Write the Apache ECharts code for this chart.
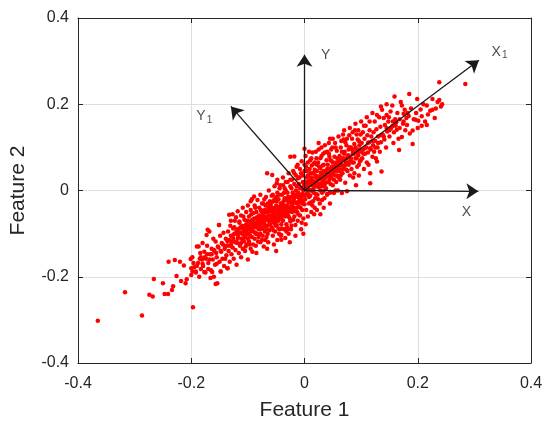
<!DOCTYPE html>
<html>
<head>
<meta charset="utf-8">
<script src="https://cdn.jsdelivr.net/npm/echarts@6/dist/echarts.min.js"></script>
<style>
  html, body { margin: 0; padding: 0; background: #fff; }
  #chart { width: 550px; height: 431px; }
</style>
</head>
<body>
<div id="chart"></div>
<script>
// axis ticks
const tickValues = [-0.4, -0.2, 0, 0.2, 0.4];

// samples, lower-left tail
const tailLow = [
  [-0.365,-0.302],[-0.317,-0.236],[-0.287,-0.290],[-0.274,-0.242],[-0.268,-0.246],[-0.266,-0.205],
  [-0.250,-0.215],[-0.247,-0.240],[-0.241,-0.240],[-0.234,-0.231],[-0.232,-0.222],[-0.226,-0.198],
  [-0.240,-0.165],[-0.229,-0.161],[-0.220,-0.165],[-0.213,-0.174],[-0.218,-0.210],[-0.210,-0.215],
  [-0.208,-0.206],[-0.197,-0.271],[-0.200,-0.196],[-0.201,-0.159],[-0.198,-0.188],[-0.192,-0.188],
  [-0.187,-0.130],[-0.183,-0.155],[-0.177,-0.189],[-0.171,-0.091],[-0.166,-0.203],[-0.157,-0.217],
  [-0.163,-0.189],[-0.148,-0.188],[-0.136,-0.180],[-0.151,-0.080],[-0.173,-0.103],[-0.133,-0.056]
];

// left half of the band
const bandLeft = [
  [-0.198,-0.155],[-0.195,-0.178],[-0.192,-0.19],[-0.19,-0.13],[-0.188,-0.168],[-0.186,-0.2],[-0.184,-0.145],
  [-0.183,-0.182],[-0.181,-0.16],[-0.18,-0.122],
  [-0.179,-0.175],[-0.177,-0.142],[-0.175,-0.19],[-0.174,-0.158],[-0.172,-0.128],[-0.17,-0.168],[-0.168,-0.095],
  [-0.167,-0.148],[-0.165,-0.185],[-0.164,-0.135],[-0.162,-0.16],[-0.161,-0.112],[-0.16,-0.2],
  [-0.159,-0.14],[-0.158,-0.172],[-0.157,-0.118],[-0.155,-0.155],[-0.154,-0.215],[-0.153,-0.13],[-0.151,-0.08],
  [-0.15,-0.165],[-0.149,-0.105],[-0.148,-0.188],[-0.147,-0.142],[-0.146,-0.122],[-0.145,-0.158],[-0.143,-0.098],
  [-0.142,-0.175],[-0.141,-0.135],
  [-0.139,-0.112],[-0.138,-0.15],[-0.137,-0.128],[-0.136,-0.18],[-0.135,-0.095],[-0.134,-0.14],[-0.133,-0.115],
  [-0.132,-0.165],[-0.131,-0.082],[-0.13,-0.125],[-0.129,-0.148],[-0.128,-0.105],[-0.127,-0.132],[-0.126,-0.088],
  [-0.125,-0.158],[-0.124,-0.118],[-0.123,-0.07],[-0.122,-0.138],[-0.121,-0.1],[-0.12,-0.172],
  [-0.119,-0.122],[-0.118,-0.09],[-0.117,-0.108],[-0.116,-0.145],[-0.115,-0.075],[-0.114,-0.128],[-0.113,-0.098],
  [-0.112,-0.155],[-0.111,-0.112],[-0.11,-0.082],[-0.109,-0.135],[-0.108,-0.06],[-0.107,-0.118],[-0.106,-0.095],
  [-0.105,-0.14],[-0.104,-0.105],[-0.103,-0.078],[-0.102,-0.125],[-0.101,-0.09],[-0.1,-0.16],[-0.118,-0.102],
  [-0.113,-0.085],[-0.108,-0.112],[-0.104,-0.13],[-0.101,-0.07],
  [-0.099,-0.1],[-0.098,-0.118],[-0.097,-0.072],[-0.096,-0.088],[-0.095,-0.135],[-0.094,-0.055],[-0.093,-0.108],
  [-0.092,-0.08],[-0.091,-0.125],[-0.09,-0.095],[-0.089,-0.065],[-0.088,-0.112],[-0.087,-0.04],[-0.086,-0.085],
  [-0.085,-0.145],[-0.084,-0.1],[-0.083,-0.07],[-0.082,-0.118],[-0.081,-0.09],[-0.08,-0.058],[-0.099,-0.082],
  [-0.096,-0.105],[-0.093,-0.092],[-0.09,-0.075],[-0.087,-0.098],[-0.084,-0.062],[-0.081,-0.108],[-0.097,-0.125],
  [-0.092,-0.142],[-0.086,-0.128],[-0.089,-0.014],[-0.095,-0.025],
  [-0.2,-0.18],[-0.196,-0.168],[-0.19,-0.175],[-0.185,-0.158],[-0.18,-0.17],[-0.176,-0.155],[-0.172,-0.148],
  [-0.168,-0.16],[-0.164,-0.148],[-0.16,-0.138],[-0.156,-0.145],[-0.152,-0.132],[-0.148,-0.14],[-0.144,-0.125],
  [-0.14,-0.13],[-0.136,-0.118],[-0.132,-0.128],[-0.17,-0.182],[-0.155,-0.17],[-0.14,-0.158]
];

// dense middle of the cloud
const core = [
  [-0.079,-0.08],[-0.078,-0.1],[-0.077,-0.045],[-0.076,-0.068],[-0.075,-0.115],[-0.074,-0.088],[-0.073,-0.055],
  [-0.072,-0.13],[-0.071,-0.075],[-0.07,-0.095],[-0.069,-0.035],[-0.068,-0.062],[-0.067,-0.108],[-0.066,-0.082],
  [-0.065,-0.05],[-0.064,-0.12],[-0.063,-0.07],[-0.062,-0.092],[-0.061,-0.025],[-0.06,-0.058],[-0.079,-0.062],
  [-0.076,-0.085],[-0.073,-0.072],[-0.07,-0.06],[-0.067,-0.09],[-0.064,-0.04],[-0.061,-0.078],[-0.078,-0.12],
  [-0.074,-0.105],[-0.069,-0.115],[-0.065,-0.1],[-0.062,-0.045],[-0.071,-0.02],[-0.075,-0.03],[-0.066,-0.135],
  [-0.066,0.04],[-0.057,0.036],[-0.049,0.017],
  [-0.059,-0.065],[-0.058,-0.085],[-0.057,-0.04],[-0.056,-0.105],[-0.055,-0.052],[-0.054,-0.075],[-0.053,-0.02],
  [-0.052,-0.095],[-0.051,-0.06],[-0.05,-0.035],[-0.049,-0.08],[-0.048,-0.115],[-0.047,-0.048],[-0.046,-0.07],
  [-0.045,-0.01],[-0.044,-0.09],[-0.043,-0.055],[-0.042,-0.03],[-0.041,-0.078],[-0.04,-0.042],[-0.059,-0.048],
  [-0.057,-0.07],[-0.055,-0.092],[-0.053,-0.058],[-0.051,-0.082],[-0.049,-0.025],[-0.047,-0.062],[-0.045,-0.1],
  [-0.043,-0.038],[-0.041,-0.065],[-0.058,-0.028],[-0.054,-0.125],[-0.05,-0.14],[-0.046,-0.088],[-0.042,-0.105],
  [-0.048,-0.005],[-0.044,0.005],[-0.056,-0.01],[-0.052,-0.042],[-0.04,-0.088],[-0.041,-0.114],[-0.041,-0.103],
  [-0.039,-0.05],[-0.038,-0.07],[-0.037,-0.025],[-0.036,-0.09],[-0.035,-0.04],[-0.034,-0.06],[-0.033,0.0],
  [-0.032,-0.078],[-0.031,-0.035],[-0.03,-0.055],[-0.029,-0.015],[-0.028,-0.1],[-0.027,-0.045],[-0.026,-0.065],
  [-0.025,0.01],[-0.024,-0.028],[-0.023,-0.082],[-0.022,-0.05],[-0.021,-0.005],[-0.02,-0.068],[-0.039,-0.032],
  [-0.037,-0.058],[-0.035,-0.018],[-0.033,-0.048],[-0.031,-0.085],[-0.029,-0.038],[-0.027,-0.022],[-0.025,-0.072],
  [-0.023,-0.042],[-0.021,-0.03],[-0.038,0.012],[-0.034,-0.11],[-0.03,0.02],[-0.026,-0.12],[-0.022,0.025],
  [-0.036,-0.005],[-0.028,-0.06],[-0.024,-0.09],[-0.02,-0.012],[-0.032,-0.095],[-0.029,-0.089],[-0.025,0.078],
  [-0.019,-0.04],[-0.018,-0.06],[-0.017,-0.015],[-0.016,-0.08],[-0.015,-0.028],[-0.014,0.01],[-0.013,-0.05],
  [-0.012,-0.07],[-0.011,-0.005],[-0.01,-0.038],[-0.009,0.03],[-0.008,-0.058],[-0.007,-0.02],[-0.006,-0.09],
  [-0.005,0.005],[-0.004,-0.045],[-0.003,0.02],[-0.002,-0.065],[-0.001,-0.01],[0.0,-0.032],[-0.019,-0.02],
  [-0.017,-0.048],[-0.015,0.0],[-0.013,-0.03],[-0.011,-0.055],[-0.009,-0.012],[-0.007,-0.04],[-0.005,-0.075],
  [-0.003,-0.025],[-0.001,0.012],[-0.018,0.04],[-0.014,0.055],[-0.01,0.015],[-0.006,0.04],[-0.002,-0.1],
  [-0.016,-0.105],[-0.012,0.028],[-0.008,-0.028],[-0.004,-0.008],[0.0,0.045],[-0.018,0.079],[0.0,0.097],
  [0.001,-0.02],[0.002,0.01],[0.003,-0.045],[0.004,0.03],[0.005,-0.005],[0.006,-0.06],[0.007,0.015],
  [0.008,-0.03],[0.009,0.05],[0.01,-0.012],[0.011,0.025],[0.012,-0.05],[0.013,0.0],[0.014,0.04],
  [0.015,-0.025],[0.016,0.062],[0.017,0.012],[0.018,-0.04],[0.019,0.03],[0.02,-0.008],[0.002,-0.078],
  [0.004,0.005],[0.006,0.035],[0.008,-0.015],[0.01,0.07],[0.012,0.018],[0.014,-0.035],[0.016,0.005],
  [0.018,0.048],[0.003,0.055],[0.007,-0.01],[0.011,-0.028],[0.015,0.022],[0.019,-0.018],[0.005,0.02],
  [0.013,0.058],[0.017,-0.055],[0.009,0.002],
  [0.021,0.02],[0.022,0.045],[0.023,-0.01],[0.024,0.065],[0.025,0.008],[0.026,0.032],[0.027,-0.03],
  [0.028,0.052],[0.029,0.015],[0.03,0.08],[0.031,-0.005],[0.032,0.038],[0.033,0.022],[0.034,0.06],
  [0.035,-0.018],[0.036,0.028],[0.037,0.045],[0.038,0.005],[0.039,0.07],[0.04,0.035],[0.022,0.03],
  [0.024,-0.02],[0.026,0.055],[0.028,0.0],[0.03,0.025],[0.032,0.058],[0.034,0.01],[0.036,0.088],
  [0.038,0.042],[0.04,-0.01],[0.025,0.095],[0.029,0.042],[0.033,-0.002],[0.037,0.018],[0.021,0.075],
  [0.022,-0.045],[0.031,-0.022],[0.040,-0.008],[0.034,-0.04],[0.045,-0.03],[0.028,-0.055]
];

// more samples along the ridge of the cloud
const ridge = [
  [-0.13,-0.105],[-0.128,-0.118],[-0.126,-0.11],[-0.124,-0.1],[-0.122,-0.12],[-0.12,-0.095],[-0.118,-0.112],
  [-0.116,-0.098],[-0.114,-0.088],[-0.112,-0.122],[-0.11,-0.1],[-0.108,-0.09],[-0.106,-0.108],[-0.104,-0.085],
  [-0.102,-0.098],[-0.1,-0.112],[-0.098,-0.09],[-0.096,-0.078],[-0.094,-0.095],[-0.092,-0.068],[-0.09,-0.085],
  [-0.088,-0.075],[-0.086,-0.1],[-0.084,-0.08],[-0.082,-0.065],[-0.08,-0.072],[-0.078,-0.09],[-0.076,-0.058],
  [-0.074,-0.075],[-0.072,-0.065],[-0.07,-0.082],[-0.068,-0.05],[-0.066,-0.068],[-0.064,-0.058],[-0.062,-0.078],
  [-0.06,-0.048],[-0.058,-0.06],[-0.056,-0.045],[-0.054,-0.065],[-0.052,-0.05],[-0.05,-0.07],[-0.048,-0.038],
  [-0.046,-0.055],[-0.044,-0.045],[-0.042,-0.062],[-0.04,-0.03],[-0.038,-0.045],[-0.036,-0.035],[-0.034,-0.05],
  [-0.032,-0.022],[-0.03,-0.04],[-0.028,-0.028],[-0.026,-0.048],[-0.024,-0.015],[-0.022,-0.035],[-0.02,-0.025],
  [-0.018,-0.028],[-0.016,-0.01],[-0.014,-0.04],[-0.012,-0.015],[-0.01,-0.025],[-0.008,0.005],[-0.006,-0.015],
  [-0.004,-0.03],[-0.002,0.0],[0.0,-0.012],[0.002,0.02],[0.004,-0.01],[0.006,0.008],[0.008,0.022],[0.01,0.0],
  [0.012,0.03],[0.014,0.012],[0.016,-0.005],[0.018,0.018],[0.02,0.035],[0.022,0.01],[0.024,0.025],[0.026,0.015],
  [0.028,0.035],[0.03,0.01],[0.032,0.025],[0.034,0.045],[0.036,0.015],[0.038,0.032],[0.04,0.05],[0.042,0.035],
  [0.044,0.025],[0.046,0.05],[0.048,0.068],[0.05,0.04],[0.052,0.055],[0.054,0.05],[0.056,0.065],[0.058,0.035],
  [0.06,0.055],[0.062,0.045],[0.064,0.07],[0.066,0.058],[0.068,0.05],[0.07,0.085],[0.072,0.06],[0.074,0.075],
  [0.076,0.065],[0.078,0.08],[0.08,0.1],[0.082,0.075],[0.084,0.065],[0.086,0.09],[0.088,0.085],[0.09,0.1],
  [0.092,0.075],[0.094,0.088],[0.096,0.115],[0.098,0.095],[0.1,0.072],
  [0.104,0.085],[0.108,0.1],[0.112,0.11],[0.116,0.098],[0.12,0.115],[0.125,0.1],[0.13,0.11],[0.135,0.128],
  [0.14,0.125],[0.145,0.145],[0.15,0.14],[0.156,0.16],[0.162,0.158],[0.168,0.145],[0.175,0.16],[0.182,0.18]
];

// upper side of the band, left of and above the origin
const upperEdge = [
  [-0.13,-0.07],[-0.127,-0.055],[-0.124,-0.085],[-0.121,-0.062],[-0.118,-0.048],[-0.115,-0.072],[-0.112,-0.058],
  [-0.109,-0.04],[-0.106,-0.068],[-0.103,-0.05],[-0.1,-0.035],[-0.098,-0.06],[-0.095,-0.045],[-0.093,-0.02],
  [-0.09,-0.052],[-0.088,-0.035],[-0.085,-0.05],[-0.083,-0.022],[-0.08,-0.04],[-0.078,-0.01],[-0.076,-0.048],
  [-0.073,-0.03],[-0.07,-0.045],[-0.068,-0.015],[-0.065,-0.03],[-0.063,0.0],[-0.06,-0.035],[-0.058,-0.012],
  [-0.055,-0.025],[-0.053,0.01],[-0.05,-0.015],[-0.048,0.025],[-0.046,-0.02],[-0.043,0.012],[-0.04,-0.01],
  [-0.038,0.03],[-0.035,0.005],[-0.033,0.02],[-0.03,-0.005],[-0.028,0.04],[-0.025,0.025],[-0.023,0.005],
  [-0.02,0.045],[-0.018,0.015],[-0.015,0.035],[-0.012,0.06],[-0.01,0.03],[-0.008,0.05],[-0.005,0.068],
  [-0.003,0.035],[0.0,0.06],[0.002,0.08],[0.004,0.045],[0.006,0.065],[0.008,0.09],[0.01,0.04],[0.012,0.075],
  [0.014,0.088],[0.016,0.04],[0.018,0.065],[0.02,0.09],[0.022,0.06],[0.025,0.11],[0.028,0.075],[0.03,0.1],
  [0.033,0.085],[0.036,0.105],[0.04,0.09],[0.043,0.11],[0.047,0.095],[0.05,0.12],[0.055,0.1],[0.06,0.125],
  [0.065,0.115],[0.07,0.14],[0.075,0.12],[0.08,0.145],[0.085,0.135],[0.09,0.155],[0.095,0.14],[0.1,0.16],
  [0.105,0.15],[0.11,0.17],[0.115,0.16],[0.12,0.18],[0.128,0.175],[0.135,0.195],[0.145,0.2]
];

// right half of the band
const bandRight = [
  [0.041,0.06],[0.042,0.02],[0.043,0.085],[0.044,0.04],[0.045,-0.005],[0.046,0.07],[0.047,0.03],
  [0.048,0.055],[0.049,0.1],[0.05,0.012],[0.051,0.045],[0.052,-0.006],[0.053,0.078],[0.054,0.035],
  [0.055,0.06],[0.056,0.02],[0.057,0.092],[0.058,0.05],[0.059,0.0],[0.06,0.068],[0.042,0.05],
  [0.044,0.078],[0.046,0.015],[0.048,0.038],[0.05,0.065],[0.052,0.025],[0.054,0.11],[0.056,0.045],
  [0.058,0.075],[0.06,0.03],[0.045,0.12],[0.055,0.0],
  [0.061,0.05],[0.062,0.08],[0.063,0.025],[0.064,0.1],[0.065,0.06],[0.066,-0.006],[0.067,0.04],
  [0.068,0.075],[0.069,0.118],[0.07,0.055],[0.071,0.09],[0.072,0.018],[0.073,0.065],[0.074,0.105],
  [0.075,-0.002],[0.076,0.045],[0.077,0.082],[0.078,0.06],[0.079,0.128],[0.08,0.035],[0.062,0.065],
  [0.066,0.09],[0.07,0.072],[0.074,0.048],[0.078,0.095],[0.064,0.035],[0.068,0.13],[0.072,0.112],
  [0.081,0.07],[0.082,0.1],[0.083,0.05],[0.084,0.12],[0.085,0.085],[0.086,0.03],[0.087,0.065],
  [0.088,0.108],[0.089,0.14],[0.09,0.075],[0.091,0.012],[0.092,0.095],[0.093,0.055],[0.094,0.118],
  [0.095,0.082],[0.096,0.035],[0.097,0.105],[0.098,0.068],[0.099,0.13],[0.1,0.09],[0.084,0.095],
  [0.088,0.04],[0.092,0.13],[0.096,0.06],
  [0.101,0.11],[0.102,0.075],[0.103,0.135],[0.104,0.095],[0.105,0.05],[0.106,0.12],[0.107,0.085],
  [0.108,0.15],[0.109,0.1],[0.11,0.065],[0.111,0.128],[0.112,0.088],[0.113,0.06],[0.114,0.112],
  [0.115,0.14],[0.116,0.017],[0.116,0.04],[0.117,0.095],[0.118,0.125],[0.12,0.078]
];

// upper-right tail
const tailHigh = [
  [0.121,0.105],[0.122,0.135],[0.123,0.09],[0.124,0.16],[0.125,0.115],[0.126,0.075],[0.127,0.142],
  [0.128,0.067],[0.129,0.1],[0.13,0.125],[0.132,0.17],[0.133,0.09],[0.134,0.148],[0.135,0.112],
  [0.136,0.044],[0.137,0.187],[0.138,0.13],[0.14,0.168],
  [0.141,0.118],[0.142,0.152],[0.144,0.1],[0.145,0.175],[0.146,0.137],[0.148,0.16],[0.149,0.17],
  [0.15,0.125],[0.152,0.183],[0.153,0.145],[0.155,0.197],[0.155,0.149],[0.157,0.11],[0.159,0.218],
  [0.16,0.165],[0.158,0.135],
  [0.161,0.15],[0.163,0.141],[0.164,0.18],[0.166,0.12],[0.167,0.094],[0.168,0.165],[0.17,0.205],
  [0.172,0.124],[0.172,0.197],[0.174,0.155],[0.175,0.178],[0.177,0.187],[0.178,0.14],[0.18,0.168],
  [0.181,0.152],[0.184,0.173],[0.185,0.224],[0.186,0.132],[0.188,0.19],[0.191,0.139],[0.191,0.108],
  [0.193,0.165],[0.196,0.164],[0.197,0.18],[0.199,0.212],[0.2,0.145],
  [0.201,0.162],[0.205,0.188],[0.207,0.172],[0.207,0.15],[0.21,0.2],[0.213,0.16],[0.216,0.197],
  [0.216,0.152],[0.218,0.176],[0.222,0.185],[0.226,0.212],[0.226,0.187],[0.23,0.168],[0.235,0.205],
  [0.238,0.21],[0.238,0.251],[0.241,0.195],[0.243,0.2],[0.232,0.19],[0.284,0.247]
];

// arrows from the origin: name, tip, label anchor
const arrowNames = ['X', 'Y', 'X1', 'Y1'];
const arrowTips = [[0.307, -0.002], [0, 0.315], [0.308, 0.302], [-0.13, 0.195]];
const labelAnchors = [[0.286, -0.052], [0.0375, 0.311], [0.3445, 0.3195], [-0.177, 0.169]];

const points = tailLow.concat(bandLeft, core, ridge, upperEdge, bandRight, tailHigh);

const font = 'Liberation Sans, Arial, Helvetica, sans-serif';
const ink = '#262626';

function axisBase(extra) {
  return Object.assign({
    type: 'value',
    min: -0.4,
    max: 0.4,
    interval: 0.2,
    axisLine: { show: true, onZero: false, lineStyle: { color: ink, width: 1 } },
    axisTick: { show: true, inside: true, length: 5, lineStyle: { color: ink } },
    splitLine: { show: false },
    axisLabel: { show: false }
  }, extra);
}

function tickText(v) {
  const t = tickValues.find(t => Math.abs(t - v) < 1e-9);
  return String(t === undefined ? v : t);
}

const chart = echarts.init(document.getElementById('chart'));
chart.setOption({
  animation: false,
  backgroundColor: '#fff',
  grid: { left: 77, right: 19, top: 18, bottom: 68 },
  xAxis: [
    axisBase({
      position: 'bottom',
      name: 'Feature 1',
      nameLocation: 'middle',
      nameGap: 37,
      nameTextStyle: { color: ink, fontSize: 21, fontFamily: font },
      splitLine: { show: true, lineStyle: { color: '#dedede' } },
      axisLabel: { show: true, color: ink, fontSize: 16, fontFamily: font, margin: 13, formatter: tickText }
    }),
    axisBase({ position: 'top' })
  ],
  yAxis: [
    axisBase({
      position: 'left',
      name: 'Feature 2',
      nameLocation: 'middle',
      nameGap: 49,
      nameTextStyle: { color: ink, fontSize: 21, fontFamily: font },
      splitLine: { show: true, lineStyle: { color: '#dedede' } },
      axisLabel: { show: true, color: ink, fontSize: 16, fontFamily: font, margin: 9, formatter: tickText }
    }),
    axisBase({ position: 'right' })
  ],
  series: [
    {
      type: 'scatter',
      data: points,
      symbolSize: 4.5,
      itemStyle: { color: '#ff0000', opacity: 1 },
      z: 2
    },
    {
      type: 'lines',
      coordinateSystem: 'cartesian2d',
      data: arrowTips.map(t => ({ coords: [[0, 0], t] })),
      symbol: ['none', 'arrow'],
      symbolSize: 12,
      lineStyle: { color: '#1a1a1a', width: 1.3, opacity: 1 },
      z: 3
    },
    {
      type: 'scatter',
      data: labelAnchors.map((p, i) => ({ value: p, name: arrowNames[i] })),
      symbolSize: 0,
      silent: true,
      z: 4,
      label: {
        show: true,
        position: 'inside',
        color: '#1a1a1a',
        fontFamily: font,
        formatter: p => p.name.length > 1
          ? '{b|' + p.name[0] + '}{s|' + p.name.slice(1) + '}'
          : '{b|' + p.name + '}',
        rich: {
          b: { fontSize: 14, fontFamily: font, color: '#1a1a1a', lineHeight: 16, verticalAlign: 'top' },
          s: { fontSize: 10, fontFamily: font, color: '#1a1a1a', lineHeight: 10, padding: [10, 0, 0, 1], verticalAlign: 'bottom' }
        }
      }
    }
  ]
});
</script>
</body>
</html>
